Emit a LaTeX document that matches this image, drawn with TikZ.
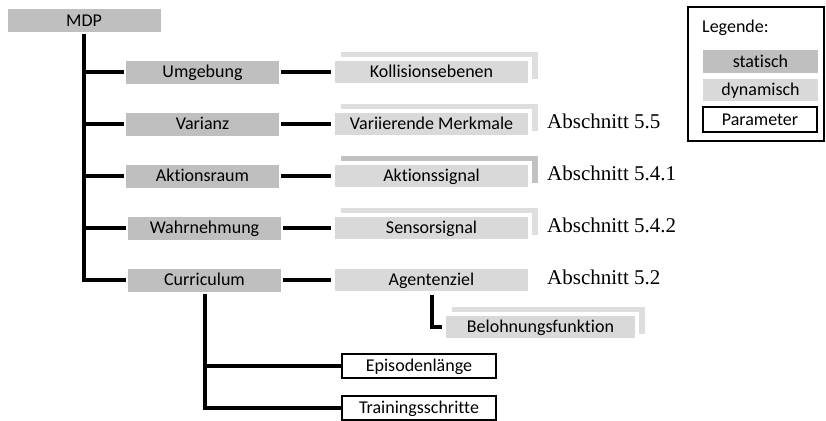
\documentclass[tikz,border=0pt]{standalone}
\usepackage{fontspec}
\setmainfont{Carlito}[Ligatures=NoCommon]
\newfontfamily\serifnote{Liberation Serif}
\usetikzlibrary{calc}
\pgfdeclarelayer{back}
\pgfsetlayers{back,main}
\definecolor{statgray}{gray}{0.75}
\definecolor{dyngray}{gray}{0.85}
\definecolor{stacklight}{gray}{0.87}
\definecolor{stackdark}{gray}{0.76}
\tikzset{
  box/.style={inner sep=0pt, text height=13pt, text depth=1.5pt, font=\fontsize{18}{20}\selectfont},
  statbox/.style={box, fill=statgray, draw=white, line width=2pt, minimum width=155pt, minimum height=25pt},
  dynbox/.style={box, fill=dyngray, draw=white, line width=4pt, minimum width=197pt, minimum height=26pt},
  parbox/.style={box, fill=white, draw=black, line width=2pt, minimum width=154pt, minimum height=24pt},
  conn/.style={line width=4pt},
  note/.style={anchor=base west, inner sep=0pt, font=\serifnote\fontsize{21}{24}\selectfont},
}
% second sheet peeking out behind a dynamic box
\def\pagestack[#1](#2){\begin{pgfonlayer}{back}\fill[#1] ([shift={(10,-8)}]#2.south west) rectangle ([shift={(6,-5)}]#2.north east);\end{pgfonlayer}}

\begin{document}
\begin{tikzpicture}[x=1pt, y=-1pt]
		%%%%% START %%%%%
		\useasboundingbox (0,0) rectangle (826,420);
		
		\node[statbox] (mdp) at (84,20.5) {MDP};
		
		\node[statbox] (umg) at (202.5,72) {Umgebung};
		\node[statbox] (var) at (202.5,124) {Varianz};
		\node[statbox] (akt) at (202.5,176) {Aktionsraum};
		\node[statbox] (wahr) at (204.5,228) {Wahrnehmung};
		\node[statbox] (cur) at (204.5,280) {Curriculum};
		
		\node[dynbox] (koll) at (431.5,72) {Kollisionsebenen};
		\node[dynbox] (vmerk) at (431.5,124) {Variierende Merkmale};
		\node[dynbox] (asig) at (431.5,176) {Aktionssignal};
		\node[dynbox] (ssig) at (431.5,228) {Sensorsignal};
		\node[dynbox] (ziel) at (431.5,280) {Agentenziel};
		\node[dynbox, minimum width=193pt] (beloh) at (540.5,327) {Belohnungsfunktion};
		
		\pagestack[stacklight](koll)
		\pagestack[stacklight](vmerk)
		\pagestack[stackdark](asig)
		\pagestack[stacklight](ssig)
		\pagestack[stacklight](beloh)
		
		\node[parbox] (epi) at (419,366) {Episodenlänge};
		\node[parbox] (train) at (419,408) {Trainingsschritte};
		
		% tree from MDP
		\draw[conn] (mdp.south) |- (cur.west);
		\foreach \n in {umg,var,akt,wahr}
			\draw[conn] (mdp.south |- \n.west) -- (\n.west);
		\draw[conn] (umg) -- (koll);
		\draw[conn] (var) -- (vmerk);
		\draw[conn] (akt) -- (asig);
		\draw[conn] (wahr) -- (ssig);
		\draw[conn] (cur) -- (ziel);
		\draw[conn] (ziel.south) |- (beloh.west);
		\draw[conn] (cur.south) |- (train.west);
		\draw[conn] (cur.south |- epi.west) -- (epi.west);
		
		\node[note] (n55) at (547,128.5) {Abschnitt 5.5};
		\node[note] (n541) at (547,180.5) {Abschnitt 5.4.1};
		\node[note] (n542) at (547,232.5) {Abschnitt 5.4.2};
		\node[note] (n52) at (547,284.5) {Abschnitt 5.2};
		
		% legend
		\draw[line width=2pt] (688,7) rectangle (824,141);
		\node[box, anchor=base west] (leg) at (702,33) {Legende:};
		\node[statbox, minimum width=117pt] (legstat) at (760.5,61.5) {statisch};
		\node[dynbox, minimum width=119pt] (legdyn) at (760.5,89.5) {dynamisch};
		\node[parbox, minimum width=114pt, minimum height=25pt] (legpar) at (760,119.5) {Parameter};
		
		%%%%% END %%%%%
	\end{tikzpicture}
\end{document}
